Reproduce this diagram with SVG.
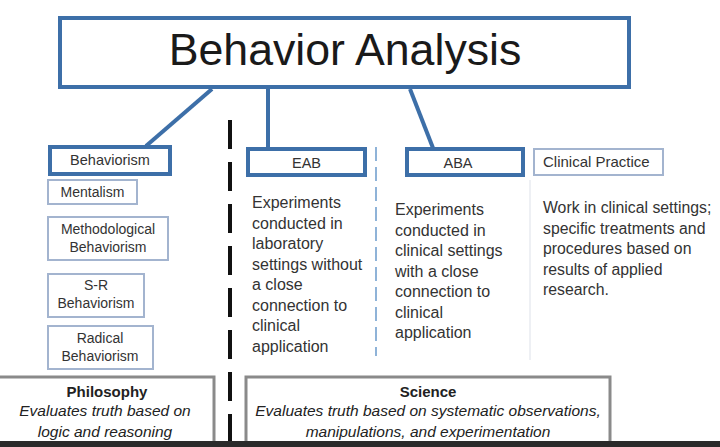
<svg xmlns="http://www.w3.org/2000/svg" width="720" height="447" viewBox="0 0 720 447">
<style>
  text { font-family: "Liberation Sans", Arial, sans-serif; fill: #333; }
  .title { font-size: 44.7px; fill: #1a1a1a; }
  .lbl { font-size: 14.5px; }
  .sub { font-size: 14px; }
  .body { font-size: 16px; }
  .bold { font-size: 15px; font-weight: bold; fill: #222; }
  .it { font-size: 15.5px; font-style: italic; fill: #222; }
  .thick { fill: #fff; stroke: #3d6fa8; stroke-width: 4; }
  .thin { fill: #fff; stroke: #a3b4cf; stroke-width: 2; }
  .grey { fill: #fff; stroke: #8a8a8a; stroke-width: 3; }
  .conn { stroke: #3d6fa8; stroke-width: 4; fill: none; }
</style>
<rect x="0" y="0" width="720" height="447" fill="#fff"/>

<g id="separators">
  <line x1="376" y1="147" x2="376" y2="356" stroke="#8fb3d8" stroke-width="2" stroke-dasharray="14 6"/>
  <line x1="530" y1="180" x2="530" y2="360" stroke="#e8ebf0" stroke-width="1.5"/>
</g>

<g id="connectors">
  <line class="conn" x1="212" y1="89" x2="146" y2="146"/>
  <line class="conn" x1="268" y1="89" x2="268" y2="148"/>
  <line class="conn" x1="410" y1="89" x2="433" y2="148"/>
</g>

<g id="behavior-analysis">
  <rect class="thick" x="60" y="18" width="569" height="69"/>
  <text class="title" x="345" y="65" text-anchor="middle">Behavior Analysis</text>
</g>

<g id="behaviorism">
  <rect class="thick" x="50" y="147" width="120" height="27"/>
  <text class="lbl" x="110" y="165" text-anchor="middle">Behaviorism</text>
</g>
<g id="mentalism">
  <rect class="thin" x="48" y="180" width="89" height="24"/>
  <text class="sub" x="92.5" y="197" text-anchor="middle">Mentalism</text>
</g>
<g id="methodological">
  <rect class="thin" x="48" y="217" width="120" height="43"/>
  <text class="sub" x="108" y="234" text-anchor="middle">Methodological</text>
  <text class="sub" x="108" y="252" text-anchor="middle">Behaviorism</text>
</g>
<g id="sr">
  <rect class="thin" x="48" y="274" width="96" height="43"/>
  <text class="sub" x="96" y="290" text-anchor="middle">S-R</text>
  <text class="sub" x="96" y="308" text-anchor="middle">Behaviorism</text>
</g>
<g id="radical">
  <rect class="thin" x="48" y="326" width="105" height="43"/>
  <text class="sub" x="100" y="343" text-anchor="middle">Radical</text>
  <text class="sub" x="100" y="361" text-anchor="middle">Behaviorism</text>
</g>

<g id="eab">
  <rect class="thick" x="248" y="149" width="117" height="26"/>
  <text class="lbl" x="306.5" y="168" text-anchor="middle">EAB</text>
  <text class="body" x="252" y="208">Experiments</text>
  <text class="body" x="252" y="228.5">conducted in</text>
  <text class="body" x="252" y="249">laboratory</text>
  <text class="body" x="252" y="269.5">settings without</text>
  <text class="body" x="252" y="290">a close</text>
  <text class="body" x="252" y="310.5">connection to</text>
  <text class="body" x="252" y="331">clinical</text>
  <text class="body" x="252" y="351.5">application</text>
</g>

<g id="aba">
  <rect class="thick" x="407" y="149" width="116" height="26"/>
  <text class="lbl" x="458" y="168" text-anchor="middle">ABA</text>
  <text class="body" x="395" y="215">Experiments</text>
  <text class="body" x="395" y="235.5">conducted in</text>
  <text class="body" x="395" y="256">clinical settings</text>
  <text class="body" x="395" y="276.5">with a close</text>
  <text class="body" x="395" y="297">connection to</text>
  <text class="body" x="395" y="317.5">clinical</text>
  <text class="body" x="395" y="338">application</text>
</g>

<g id="clinical-practice">
  <rect class="thin" x="534" y="149" width="129" height="26" stroke="#aebfd6"/>
  <text class="lbl" x="543" y="167" style="font-size:15px">Clinical Practice</text>
  <text class="body" x="543" y="213" style="font-size:15.8px">Work in clinical settings;</text>
  <text class="body" x="543" y="233.5" style="font-size:15.8px">specific treatments and</text>
  <text class="body" x="543" y="254" style="font-size:15.8px">procedures based on</text>
  <text class="body" x="543" y="274.5" style="font-size:15.8px">results of applied</text>
  <text class="body" x="543" y="295" style="font-size:15.8px">research.</text>
</g>

<g id="philosophy">
  <rect class="grey" x="-3" y="377" width="217" height="72"/>
  <text class="bold" x="107" y="397" text-anchor="middle">Philosophy</text>
  <text class="it" x="105" y="416" text-anchor="middle">Evaluates truth based on</text>
  <text class="it" x="105" y="437" text-anchor="middle">logic and reasoning</text>
</g>

<g id="science">
  <rect class="grey" x="246" y="377" width="364" height="72"/>
  <text class="bold" x="428" y="397" text-anchor="middle">Science</text>
  <text class="it" x="428" y="416" text-anchor="middle">Evaluates truth based on systematic observations,</text>
  <text class="it" x="428" y="437" text-anchor="middle">manipulations, and experimentation</text>
</g>

<g id="divider">
  <line x1="230" y1="120" x2="230" y2="447" stroke="#111" stroke-width="4" stroke-dasharray="29 13"/>
</g>

<rect x="0" y="441" width="720" height="6" fill="#2a2a2a"/>
</svg>
